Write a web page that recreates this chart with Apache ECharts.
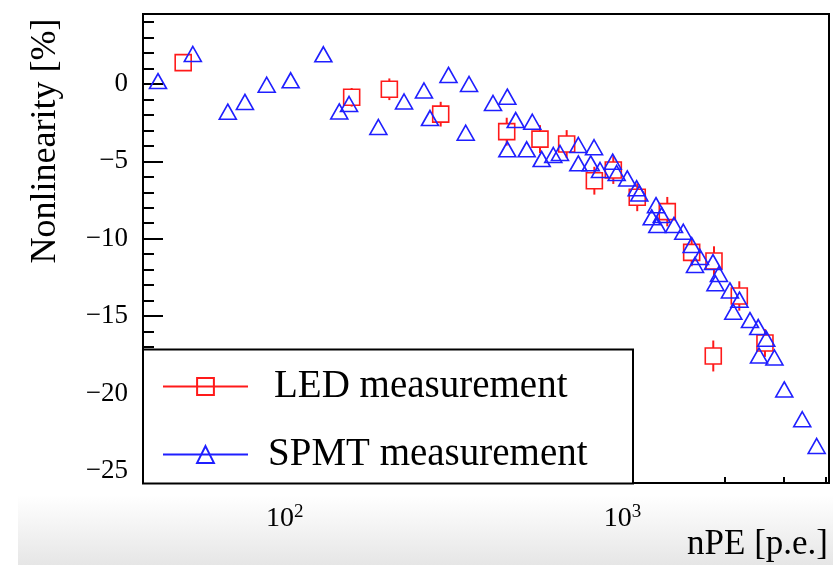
<!DOCTYPE html>
<html>
<head>
<meta charset="utf-8">
<script src="https://cdn.jsdelivr.net/npm/echarts@6/dist/echarts.min.js"></script>
<style>
html,body{margin:0;padding:0;background:#fff;}
#chart{width:833px;height:565px;}
</style>
</head>
<body>
<div id="chart"></div>
<script>
// ---- data ----
const spmtX = [42.2, 53.5, 67.9, 76.3, 88.5, 104.2, 130.2, 145.1, 155.1, 189.4,
  225.6, 258.4, 269.2, 305.4, 351.3, 343.4, 413.6, 456.0, 482.8, 456.0,
  520.3, 540.5, 576.3, 623.7, 652.7, 739.6, 823.2, 739.6, 804.9, 857.4,
  934.8, 960.5, 1032.5, 1100.8, 1120.5, 1255.7, 1219.5, 1305.5, 1267, 1419.5,
  1512.3, 1601.3, 1694.3, 1637.8, 1851, 1928, 1883, 2078, 2217, 2126,
  2382, 2520, 2661, 2533, 2814, 3009, 3401, 3752];
const spmtY = [0.19, 1.94, -1.79, -1.16, -0.05, 0.24, 1.92, -1.77, -1.29, -2.78,
  -1.13, -0.42, -2.20, 0.59, 0.0, -3.15, -1.23, -0.82, -2.33, -4.22,
  -4.22, -2.44, -4.85, -4.59, -4.46, -3.94, -4.09, -5.13, -5.13, -5.56,
  -5.02, -5.75, -6.10, -6.74, -7.07, -7.83, -8.62, -8.47, -9.11, -9.11,
  -9.55, -10.41, -11.18, -11.70, -11.51, -12.28, -12.88, -13.34, -13.94, -14.72,
  -15.26, -15.71, -16.46, -17.55, -17.68, -19.74, -21.67, -23.40];
const ledX = [50.1, 157.9, 204.1, 289.6, 454.1, 569.6, 683.2, 825, 938.7, 1105,
  1356, 1601, 1864, 2215, 2638, 1855];
const ledY = [1.38, -0.86, -0.34, -1.95, -3.08, -3.56, -3.88, -6.25, -5.56, -7.32,
  -8.25, -10.88, -11.44, -13.70, -16.74, -17.58];
const ledErr = [0.3, 0.6, 0.7, 0.8, 0.9, 0.9, 0.9, 0.9, 0.9, 0.9,
  0.95, 0.9, 0.95, 0.95, 0.9, 1.0];

const seriesNames = ['LED measurement', 'SPMT measurement'];
const yMajorTicks = [-25, -20, -15, -10, -5, 0];
const yMinorTicks = [-25, -24, -23, -22, -21, -20, -19, -18, -17, -16, -15, -14, -13,
  -12, -11, -10, -9, -8, -7, -6, -5, -4, -3, -2, -1, 0, 1, 2, 3, 4];
const xMajorTicks = [100, 1000];
const xMinorTicks = [40, 50, 60, 70, 80, 90, 200, 300, 400, 500, 600, 700, 800, 900,
  2000, 3000, 4000];
const xTitle = 'nPE [p.e.]';
const yTitle = 'Nonlinearity [%]';

// ---- build ----
const RED = '#ff1a1a';
const BLUE = '#1f1fff';
const SERIF = '"Liberation Serif", "Times New Roman", serif';
const X_MIN = 38.1, X_MAX = 4081, Y_MIN = -25.79, Y_MAX = 4.525;

const ledData = ledX.map((x, i) => [x, ledY[i]]);
const ledErrData = ledX.map((x, i) => [x, ledY[i], ledErr[i]]);
const spmtData = spmtX.map((x, i) => [x, spmtY[i]]);

const chart = echarts.init(document.getElementById('chart'), null, {renderer: 'canvas'});

const fmtY = v => (v < 0 ? '\u2212' + Math.abs(v) : String(v));
const fmtX = v => (v === 100 ? '{b|10}{s|2}' : '{b|10}{s|3}');

const option = {
  animation: false,
  backgroundColor: '#ffffff',
  grid: {
    left: 143, right: 4, top: 14, bottom: 82,
    show: true, borderColor: '#000', borderWidth: 2, backgroundColor: 'transparent'
  },
  xAxis: [{
    type: 'log', logBase: 10, min: X_MIN, max: X_MAX, gridIndex: 0,
    position: 'bottom',
    name: xTitle, nameLocation: 'end', nameGap: -1,
    nameTextStyle: {fontFamily: SERIF, fontSize: 35, color: '#000', align: 'right', verticalAlign: 'top', padding: [44, 0, 0, 0]},
    axisLine: {show: true, onZero: false, lineStyle: {color: '#000', width: 2}},
    axisTick: {show: true, inside: true, length: 12, customValues: xMajorTicks, lineStyle: {color: '#000', width: 2}},
    axisLabel: {
      customValues: xMajorTicks, margin: 20, formatter: fmtX, color: '#000',
      rich: {
        b: {fontFamily: SERIF, fontSize: 28, color: '#000', lineHeight: 30, verticalAlign: 'bottom'},
        s: {fontFamily: SERIF, fontSize: 19, color: '#000', verticalAlign: 'top', lineHeight: 30}
      }
    },
    splitLine: {show: false}, minorTick: {show: false}
  }, {
    type: 'log', logBase: 10, min: X_MIN, max: X_MAX, gridIndex: 0,
    position: 'bottom',
    axisLine: {show: false, onZero: false},
    axisTick: {show: true, inside: true, length: 6, customValues: xMinorTicks, lineStyle: {color: '#000', width: 2}},
    axisLabel: {show: false},
    splitLine: {show: false}
  }],
  yAxis: [{
    type: 'value', min: Y_MIN, max: Y_MAX, gridIndex: 0, position: 'left',
    name: yTitle, nameLocation: 'middle', nameGap: 97, nameRotate: 90,
    nameTextStyle: {fontFamily: SERIF, fontSize: 36, color: '#000', verticalAlign: 'middle', padding: [0, 0, 0, 215]},
    axisLine: {show: true, onZero: false, lineStyle: {color: '#000', width: 2}},
    axisTick: {show: true, inside: true, length: 20, customValues: yMajorTicks, lineStyle: {color: '#000', width: 2}},
    axisLabel: {customValues: yMajorTicks, margin: 15, formatter: fmtY, fontFamily: SERIF, fontSize: 27, color: '#000'},
    splitLine: {show: false}
  }, {
    type: 'value', min: Y_MIN, max: Y_MAX, gridIndex: 0, position: 'left',
    axisLine: {show: false, onZero: false},
    axisTick: {show: true, inside: true, length: 11, customValues: yMinorTicks, lineStyle: {color: '#000', width: 2}},
    axisLabel: {show: false},
    splitLine: {show: false}
  }],
  legend: {
    orient: 'vertical', left: 162, top: 367, z: 200,
    padding: 0, itemGap: 29, itemWidth: 85, itemHeight: 21,
    textStyle: {fontFamily: SERIF, fontSize: 39, color: '#000'},
    lineStyle: {width: 2},
    data: [
      {name: seriesNames[0], textStyle: {padding: [0, 0, 0, 21]}},
      {name: seriesNames[1], textStyle: {padding: [0, 0, 0, 15]}}
    ],
    selectedMode: false
  },
  graphic: [
    {
      type: 'rect', z: -10, silent: true,
      shape: {x: 18, y: 495, width: 815, height: 70},
      style: {
        fill: new echarts.graphic.LinearGradient(0, 0, 0, 1, [
          {offset: 0, color: 'rgba(255,255,255,1)'},
          {offset: 1, color: '#e6e6e6'}
        ])
      }
    },
    {
      type: 'rect', z: 100, silent: true,
      shape: {x: 143, y: 349.5, width: 490, height: 134},
      style: {fill: '#fff', stroke: '#000', lineWidth: 2}
    }
  ],
  series: [
    {
      name: seriesNames[0], type: 'line', xAxisIndex: 0, yAxisIndex: 0,
      data: ledData, symbol: 'rect', symbolSize: 16, showSymbol: true, showAllSymbol: true,
      lineStyle: {width: 0, color: RED},
      itemStyle: {color: 'rgba(0,0,0,0)', borderColor: RED, borderWidth: 1.6},
      emphasis: {disabled: true}, z: 3
    },
    {
      name: 'LED error', type: 'custom', xAxisIndex: 0, yAxisIndex: 0,
      data: ledErrData, encode: {x: 0, y: 1}, z: 3, silent: true,
      renderItem: function (params, api) {
        const x = api.value(0), y = api.value(1), e = api.value(2);
        const c = api.coord([x, y]);
        const t = api.coord([x, y + e]);
        const b = api.coord([x, y - e]);
        const h = 8;
        const kids = [];
        if (c[1] - t[1] > h) kids.push({type: 'line', shape: {x1: c[0], y1: t[1], x2: c[0], y2: c[1] - h}, style: {stroke: RED, lineWidth: 2}});
        if (b[1] - c[1] > h) kids.push({type: 'line', shape: {x1: c[0], y1: c[1] + h, x2: c[0], y2: b[1]}, style: {stroke: RED, lineWidth: 2}});
        return {type: 'group', children: kids};
      }
    },
    {
      name: seriesNames[1], type: 'line', xAxisIndex: 0, yAxisIndex: 0,
      data: spmtData, symbol: 'triangle', symbolSize: [17, 15], showSymbol: true, showAllSymbol: true,
      lineStyle: {width: 0, color: BLUE},
      itemStyle: {color: 'rgba(0,0,0,0)', borderColor: BLUE, borderWidth: 1.6},
      emphasis: {disabled: true}, z: 4
    }
  ]
};
chart.setOption(option);
</script>
</body>
</html>
